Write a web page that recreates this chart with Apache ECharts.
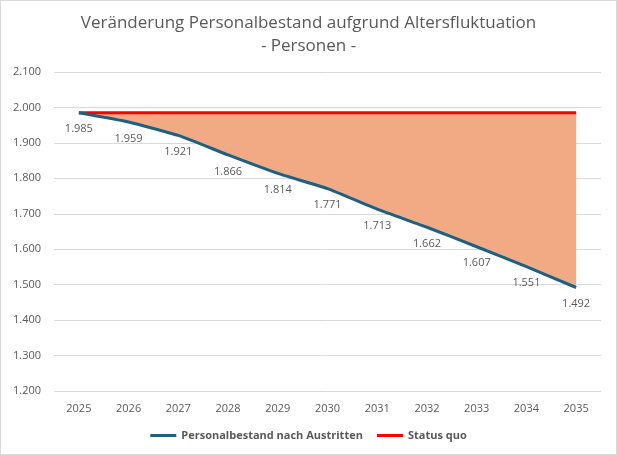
<!DOCTYPE html>
<html>
<head>
<meta charset="utf-8">
<script src="https://cdn.jsdelivr.net/npm/echarts@6/dist/echarts.min.js"></script>
<style>
  html, body { margin: 0; padding: 0; background: #fff; }
  #chart { width: 615px; height: 453px; border: 1px solid #d9d9d9; }
</style>
</head>
<body>
<div id="chart"></div>
<script>
// chart data
const years = ['2025', '2026', '2027', '2028', '2029', '2030', '2031', '2032', '2033', '2034', '2035'];
const bestand = [1985, 1959, 1921, 1866, 1814, 1771, 1713, 1662, 1607, 1551, 1492];
const statusQuo = [1985, 1985, 1985, 1985, 1985, 1985, 1985, 1985, 1985, 1985, 1985];

const gap = statusQuo.map((v, i) => v - bestand[i]);

function fmt(v) {
    // German thousands separator
    return String(v).replace(/\B(?=(\d{3})+(?!\d))/g, '.');
}

const chart = echarts.init(document.getElementById('chart'));
const grey = '#595959';
const smooth = 0.15;

chart.setOption({
    animation: false,
    textStyle: { fontFamily: 'Open Sans, Noto Sans, sans-serif' },
    title: {
        text: 'Veränderung Personalbestand aufgrund Altersfluktuation\n- Personen -',
        left: 'center',
        top: 6,
        textStyle: { fontSize: 17, fontWeight: 'normal', color: grey, lineHeight: 23 }
    },
    legend: {
        bottom: 8,
        left: 'center',
        data: ['Personalbestand nach Austritten', 'Status quo'],
        icon: 'rect',
        itemWidth: 26,
        itemHeight: 3,
        itemGap: 14,
        textStyle: { fontSize: 11, fontWeight: 'bold', color: grey }
    },
    grid: { left: 53, right: 15, top: 71, bottom: 63 },
    xAxis: {
        type: 'category',
        data: years,
        boundaryGap: true,
        axisLine: { show: false },
        axisTick: { show: false },
        axisLabel: { color: grey, fontSize: 11, margin: 12 }
    },
    yAxis: {
        type: 'value',
        min: 1200,
        max: 2100,
        interval: 100,
        axisLabel: { color: grey, fontSize: 11, margin: 13, formatter: fmt },
        splitLine: { lineStyle: { color: '#d9d9d9', width: 1 } }
    },
    series: [
        {
            name: 'base',
            type: 'line',
            stack: 'fill',
            data: bestand,
            smooth: smooth,
            symbol: 'none',
            silent: true,
            lineStyle: { opacity: 0 }
        },
        {
            name: 'gap',
            type: 'line',
            stack: 'fill',
            data: gap,
            smooth: smooth,
            symbol: 'none',
            silent: true,
            lineStyle: { opacity: 0 },
            areaStyle: { color: '#f2aa84', opacity: 1 }
        },
        {
            name: 'Status quo',
            type: 'line',
            data: statusQuo,
            symbol: 'none',
            lineStyle: { color: '#ff0000', width: 3 },
            itemStyle: { color: '#ff0000' },
            z: 3
        },
        {
            name: 'Personalbestand nach Austritten',
            type: 'line',
            data: bestand,
            smooth: smooth,
            symbol: 'circle',
            symbolSize: 0.1,
            showSymbol: true,
            lineStyle: { color: '#1f5f80', width: 3 },
            itemStyle: { color: '#1f5f80' },
            label: {
                show: true,
                position: 'bottom',
                distance: 11,
                color: grey,
                fontSize: 11,
                formatter: p => fmt(p.value)
            },
            labelLayout: { hideOverlap: false },
            z: 4
        }
    ]
});
</script>
</body>
</html>
